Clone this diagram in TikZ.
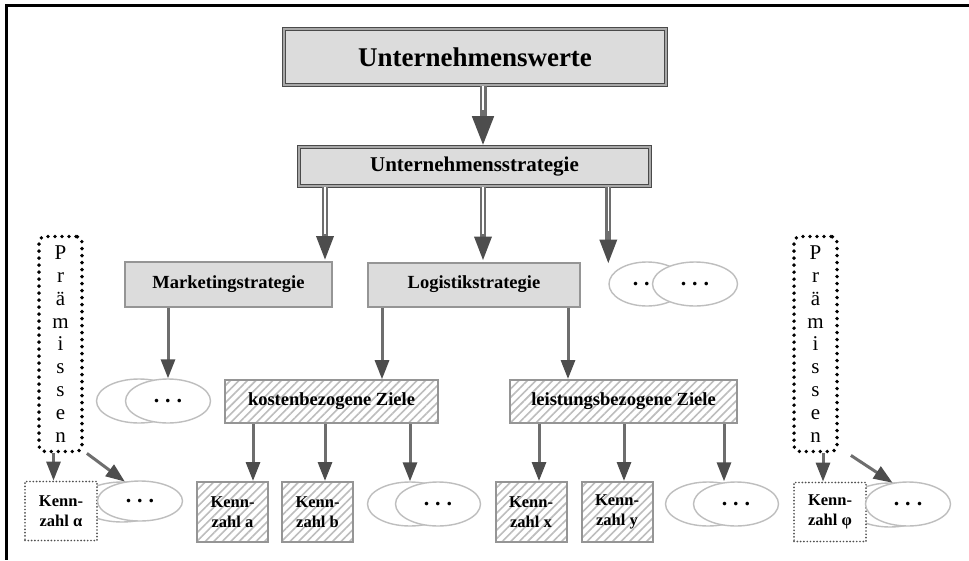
\documentclass[tikz,border=0pt]{standalone}
\usepackage{fontspec}
\setmainfont{Liberation Serif}
\usetikzlibrary{arrows.meta,patterns.meta,shapes.geometric}
\definecolor{dkline}{HTML}{4A4A4A}
\definecolor{midline}{HTML}{A8A8A8}
\definecolor{boxfill}{HTML}{DCDCDC}
\definecolor{boxline}{HTML}{959595}
\definecolor{hatchcol}{HTML}{BDBDBD}
\definecolor{ellcol}{HTML}{BEBEBE}
\definecolor{shaftcol}{HTML}{6E6E6E}
\definecolor{headcol}{HTML}{4D4D4D}
\definecolor{dotcol}{HTML}{505050}
\begin{document}
\begin{tikzpicture}[x=1pt,y=-1pt,
  topbox/.style={draw=dkline, line width=1.6pt, double=midline, double distance=1.4pt, fill=boxfill, inner sep=0pt},
  stratbox/.style={draw=boxline, line width=2pt, fill=boxfill, inner sep=0pt, font=\fontsize{18.5}{20}\selectfont\bfseries},
  hatchbox/.style={draw=boxline, line width=2pt, pattern={Lines[angle=45,distance=6pt,line width=1.6pt]}, pattern color=hatchcol, inner sep=0pt, font=\fontsize{18.5}{20}\selectfont\bfseries},
  kbox/.style={hatchbox, minimum width=71pt, minimum height=60pt, align=center, font=\fontsize{16.5}{20}\selectfont\bfseries},
  oval/.style={ellipse, draw=ellcol, line width=1.4pt, fill=white, minimum width=85pt, minimum height=44pt, inner sep=0pt, font=\fontsize{22}{22}\selectfont\bfseries},
  premise/.style={draw=black, line width=3.8pt, dash pattern=on 0pt off 7pt, line cap=round, rounded corners=6pt, minimum width=43pt, minimum height=215pt, align=center, inner sep=0pt, font=\fontsize{21}{22.8}\selectfont},
  dotbox/.style={draw=dotcol, line width=1.9pt, dash pattern=on 0pt off 3.3pt, line cap=round, fill=white, minimum width=72pt, minimum height=59pt, inner sep=0pt, align=center, font=\fontsize{16.5}{20}\selectfont\bfseries},
  arr/.style={draw=shaftcol, line width=3pt, -{Triangle[length=19pt,width=14pt,color=headcol,fill=headcol]}},
  darr/.style={draw=shaftcol, line width=6pt, -{Triangle[length=25pt,width=16pt,color=headcol,fill=headcol]}},
  bigarr/.style={draw=shaftcol, line width=7pt, -{Triangle[length=30pt,width=20pt,color=headcol,fill=headcol]}},
  inner/.style={draw=white, line width=1.6pt}
]
\useasboundingbox (0,0) rectangle (969,560);
\fill[white] (0,0) rectangle (969,560);
\draw[line width=3pt] (969,5) -- (6,5) -- (6,560);

% top levels
\node[topbox, minimum width=382pt, minimum height=56pt, font=\fontsize{27}{30}\selectfont\bfseries] (uw) at (475,57) {Unternehmenswerte};
\node[topbox, minimum width=351pt, minimum height=39pt, font=\fontsize{21}{24}\selectfont\bfseries] (us) at (474.5,166.5) {Unternehmensstrategie};

\node[stratbox, minimum width=207pt, minimum height=45pt] (mk) at (228.5,284.5) {Marketingstrategie};
\node[stratbox, minimum width=212pt, minimum height=44pt] (lg) at (474,284.5) {Logistikstrategie};

% ellipses top right
\node[oval, minimum width=76pt] (e1b) at (647,284) {.\hspace{6pt}.\hspace{6pt}.};
\node[oval] (e1f) at (695,284) {.\hspace{6pt}.\hspace{6pt}.};

% ellipses under marketing
\node[oval] (e2b) at (139,401) {.\hspace{6pt}.\hspace{6pt}.};
\node[oval] (e2f) at (168,401) {.\hspace{6pt}.\hspace{6pt}.};

% goal boxes
\node[hatchbox, minimum width=213pt, minimum height=43pt] (kz) at (331.5,401.5) {kostenbezogene Ziele};
\node[hatchbox, minimum width=227pt, minimum height=43pt] (lz) at (623.5,401.5) {leistungsbezogene Ziele};

% Kennzahlen
\node[kbox] (ka) at (232.5,512) {Kenn-\\zahl a};
\node[kbox] (kb) at (317.5,512) {Kenn-\\zahl b};
\node[oval] (e3b) at (410,504) {.\hspace{6pt}.\hspace{6pt}.};
\node[oval] (e3f) at (438,504) {.\hspace{6pt}.\hspace{6pt}.};

\node[kbox] (kx) at (531,512) {Kenn-\\zahl x};
\node[kbox] (ky) at (617,512) {Kenn-\\zahl y};
\node[oval] (e4b) at (708,504) {.\hspace{6pt}.\hspace{6pt}.};
\node[oval] (e4f) at (736,504) {.\hspace{6pt}.\hspace{6pt}.};

% Praemissen left
\node[premise] (pl) at (60.5,344) {P\\r\\ä\\m\\i\\s\\s\\e\\n};
\node[oval, minimum height=40pt] (e5b) at (122,502) {};
\node[dotbox] (kal) at (61,511) {Kenn-\\zahl α};
\node[oval, minimum height=40pt] (e5f) at (140,501) {.\hspace{6pt}.\hspace{6pt}.};

% Praemissen right
\node[premise] (pr) at (815.5,344) {P\\r\\ä\\m\\i\\s\\s\\e\\n};
\node[oval] (e6b) at (890,505) {};
\node[dotbox] (kph) at (830,512) {Kenn-\\zahl φ};
\node[oval] (e6f) at (908,504) {.\hspace{6pt}.\hspace{6pt}.};

% arrows: double shafts
\draw[bigarr] ([xshift=8pt]uw.south) -- ([xshift=8pt]uw.south |- us.north);
\draw[inner] ([xshift=8pt]uw.south) -- ++(0,24);

\draw[darr] ([xshift=-149.5pt]us.south) -- ([xshift=-149.5pt]us.south |- mk.north);
\draw[inner] ([xshift=-149.5pt]us.south) -- ++(0,47);
\draw[darr] ([xshift=8.5pt]us.south) -- ([xshift=8.5pt]us.south |- lg.north);
\draw[inner] ([xshift=8.5pt]us.south) -- ++(0,47);
\draw[darr] (us.south -| e1b.west) -- ([yshift=-3pt]e1b.west |- lg.north);
\draw[inner] (us.south -| e1b.west) -- ++(0,44);

% single arrows
\draw[arr] (mk.south -| e2f.north) -- (e2f.north);
\draw[arr] ([xshift=-92pt]lg.south) -- ([xshift=-92pt]lg.south |- kz.north);
\draw[arr] ([xshift=94pt]lg.south) -- ([xshift=94pt]lg.south |- lz.north);

\draw[arr] ([xshift=-78.5pt]kz.south) -- ([xshift=-78.5pt]kz.south |- ka.north);
\draw[arr] ([xshift=-6.5pt]kz.south) -- ([xshift=-6.5pt]kz.south |- kb.north);
\draw[arr] (kz.south -| e3b.north) -- (e3b.north);

\draw[arr] ([xshift=-84.5pt]lz.south) -- ([xshift=-84.5pt]lz.south |- kx.north);
\draw[arr] ([xshift=0.5pt]lz.south) -- ([xshift=0.5pt]lz.south |- ky.north);
\draw[arr] ([xshift=100.5pt]lz.south) -- ([xshift=100.5pt]lz.south |- e4b.north);

\draw[arr] ([xshift=-7pt]pl.south) -- ([xshift=-7pt]pl.south |- kal.north);
\draw[arr] ([xshift=3pt]pl.south east) -- (e5f.128);
\draw[arr] ([xshift=7.5pt]pr.south) -- ([xshift=7.5pt]pr.south |- kph.north);
\draw[arr] ([xshift=12pt,yshift=-2pt]pr.south east) -- (e6f.126);
\end{tikzpicture}
\end{document}
